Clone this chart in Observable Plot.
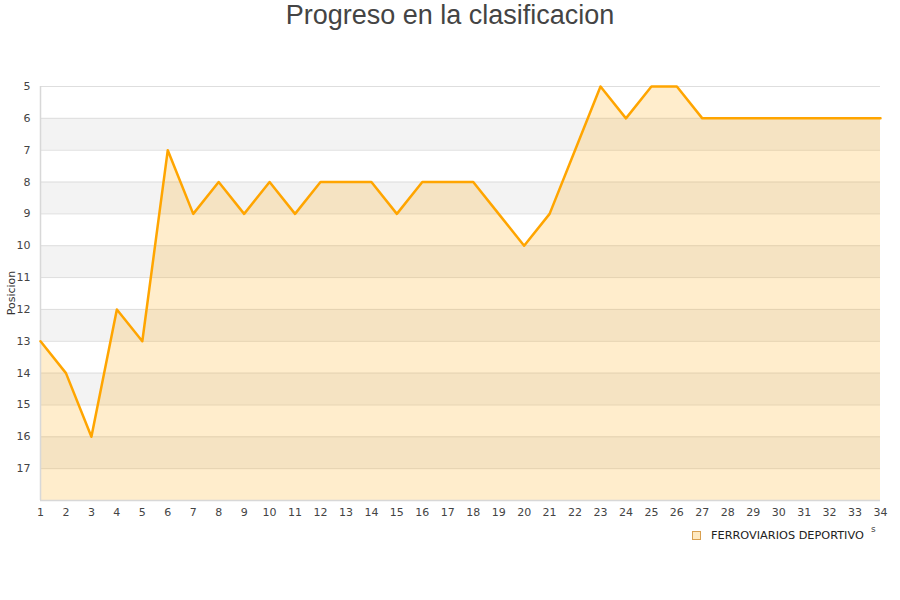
<!DOCTYPE html>
<html>
<head>
<meta charset="utf-8">
<script src="https://cdn.jsdelivr.net/npm/d3@7"></script>
<script src="https://cdn.jsdelivr.net/npm/@observablehq/plot@0.6"></script>
<style>
  body { margin: 0; background: #fff; }
  #wrap { position: relative; width: 900px; height: 600px; overflow: hidden; }
  #title { position: absolute; left: 0; top: 0; width: 900px; text-align: center;
    font-family: "Liberation Sans", Arial, sans-serif; font-size: 27px; line-height: 30px; color: #444; }
  #chart { position: absolute; left: 0; top: 30px; }
  #ylab { position: absolute; left: 5px; top: 293px; transform-origin: 0 0;
    transform: translate(0, 0) rotate(-90deg) translate(-50%, 0);
    font-family: "DejaVu Sans", sans-serif; font-size: 11px; color: #333; white-space: nowrap; }
  #legend { position: absolute; left: 692px; top: 529px; font-family: "DejaVu Sans", sans-serif;
    font-size: 11.3px; color: #222; display: flex; align-items: center; }
  #legend .sw { width: 7px; height: 7px; border: 1px solid #d9a050; background: #ffe9c0; margin-right: 10px; }
  #extra { position: absolute; left: 871px; top: 524px; font-family: "DejaVu Sans", sans-serif; font-size: 9px; color: #444; }
</style>
</head>
<body>
<div id="wrap">
  <div id="title">Progreso en la clasificacion</div>
  <div id="chart"></div>
  <div id="ylab">Posicion</div>
  <div id="legend"><div class="sw"></div><span>FERROVIARIOS DEPORTIVO</span></div>
  <div id="extra">s</div>
</div>
<script>
const jornadas = [1,2,3,4,5,6,7,8,9,10,11,12,13,14,15,16,17,18,19,20,21,22,23,24,25,26,27,28,29,30,31,32,33,34];
const posiciones = [13,14,16,12,13,7,9,8,9,8,9,8,8,8,9,8,8,8,9,10,9,7,5,6,5,5,6,6,6,6,6,6,6,6];
const yTicks = [5,6,7,8,9,10,11,12,13,14,15,16,17];
const grayBandStarts = [6,8,10,12,14,16];
const teamName = "FERROVIARIOS DEPORTIVO";

const data = jornadas.map((j, i) => ({j, p: posiciones[i]}));
const bands = grayBandStarts.map(s => ({y1: s, y2: s + 1}));

const chart = Plot.plot({
  width: 900,
  height: 490,
  marginTop: 56,
  marginBottom: 20,
  marginLeft: 40,
  marginRight: 20,
  style: {fontFamily: "DejaVu Sans, sans-serif", fontSize: "11px", color: "#444", background: "transparent"},
  x: {domain: [1, 34], label: null},
  y: {domain: [5, 18], reverse: true, label: null},
  marks: [
    Plot.rect(bands, {x1: 1, x2: 34, y1: "y1", y2: "y2", fill: "#f3f3f3"}),
    Plot.ruleY(yTicks, {stroke: "#dedede", strokeWidth: 1}),
    Plot.areaY(data, {x: "j", y1: 18, y2: "p", fill: "rgba(255,165,0,0.2)"}),
    Plot.ruleY([18], {stroke: "#d8d8d8", strokeWidth: 1.5}),
    Plot.ruleX([1], {stroke: "#d8d8d8", strokeWidth: 1.5}),
    Plot.lineY(data, {x: "j", y: "p", stroke: "#FFA500", strokeWidth: 2.5}),
    Plot.axisX({ticks: jornadas, tickSize: 0, tickPadding: 8, tickFormat: d => String(d), label: null}),
    Plot.axisY({ticks: yTicks, tickSize: 0, tickPadding: 10, tickFormat: d => String(d), label: null})
  ]
});
document.getElementById("chart").appendChild(chart);
document.querySelector("#legend span").textContent = teamName;
</script>
</body>
</html>
